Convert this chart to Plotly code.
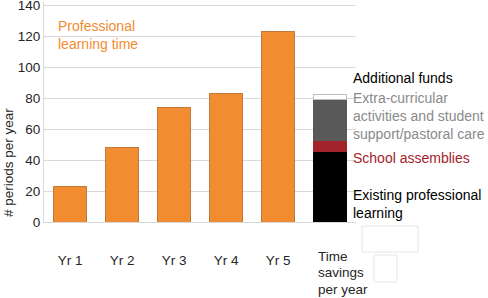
import plotly.graph_objects as go

categories = ["Yr 1", "Yr 2", "Yr 3", "Yr 4", "Yr 5", "Time savings per year"]
tick_text = ["Yr 1", "Yr 2", "Yr 3", "Yr 4", "Yr 5", ""]
y_ticks = [0, 20, 40, 60, 80, 100, 120, 140]
pl_time = [23, 48, 74, 83, 123]
existing_pl = [45]
assemblies = [7]
extra_curricular = [27]
additional_funds = [3]

FONT = "Liberation Sans, Arial, sans-serif"
ORANGE = "#F28C30"

fig = go.Figure()
fig.add_trace(go.Bar(x=categories[:5], y=pl_time, marker=dict(color=ORANGE, line=dict(color="#c27a3c", width=1)), name="Professional learning time"))
fig.add_trace(go.Bar(x=categories[5:], y=existing_pl, marker=dict(color="#000000", line=dict(width=0)), name="Existing professional learning"))
fig.add_trace(go.Bar(x=categories[5:], y=assemblies, marker=dict(color="#A3232A", line=dict(width=0)), name="School assemblies"))
fig.add_trace(go.Bar(x=categories[5:], y=extra_curricular, marker=dict(color="#595959", line=dict(width=0)), name="Extra-curricular"))
fig.add_trace(go.Bar(x=categories[5:], y=additional_funds, marker=dict(color="#ffffff", line=dict(color="#bfbfbf", width=1)), name="Additional funds"))

TOP, BOT = 2, 76
PH = 298 - TOP - BOT  # plot height in px (ends at y=222)

fig.update_layout(
    width=488, height=298,
    margin=dict(l=44, r=132, t=TOP, b=BOT),
    paper_bgcolor="white", plot_bgcolor="white",
    barmode="stack", bargap=0.35, showlegend=False,
    font=dict(family=FONT, size=13.5, color="#262626"),
)
fig.update_yaxes(range=[0, 142], tickmode="array", tickvals=y_ticks, showgrid=True, gridcolor="#d9d9d9", gridwidth=1,
                 showline=True, linecolor="#d9d9d9", zeroline=False, ticks="",
                 ticklabeloverflow="allow", automargin=False,
                 tickfont=dict(size=13.5, color="#262626"))
fig.update_xaxes(tickvals=categories, ticktext=tick_text, showline=True, linecolor="#d9d9d9",
                 ticks="", ticklabelstandoff=26, automargin=False, tickfont=dict(size=13.5, color="#262626"))

def py(p):
    return (222 - p) / PH

def px(p):
    return (p - 44) / 312

ann = [
    dict(text="Professional<br>learning time", x=px(56), y=py(16), color=ORANGE, anchor="top"),
    dict(text="Additional funds", x=px(351), y=py(78), color="#000000", anchor="middle"),
    dict(text="Extra-curricular<br>activities and student<br>support/pastoral care", x=px(351), y=py(116), color="#8a8a8a", anchor="middle"),
    dict(text="School assemblies", x=px(351), y=py(158), color="#A3232A", anchor="middle"),
    dict(text="Existing professional<br>learning", x=px(351), y=py(203.5), color="#000000", anchor="middle"),
]
for a in ann:
    fig.add_annotation(text=a["text"], x=a["x"], y=a["y"], xref="paper", yref="paper",
                       xanchor="left", yanchor=a["anchor"], align="left", showarrow=False,
                       font=dict(family=FONT, size=14, color=a["color"]))

for i, line in enumerate(["Time", "savings", "per year"]):
    fig.add_annotation(text=line, x=px(316), y=py(256 + 16.5 * i), xref="paper", yref="paper",
                       xanchor="left", yanchor="middle", align="left", showarrow=False,
                       font=dict(family=FONT, size=13.5, color="#262626"))
fig.add_annotation(text="# periods per year", x=px(8), y=py(163), xref="paper", yref="paper",
                   textangle=-90, showarrow=False, xanchor="center", yanchor="middle",
                   font=dict(family=FONT, size=13.5, color="#262626"))

fig.add_shape(type="rect", xref="paper", yref="paper", x0=px(362), x1=px(418), y0=py(252), y1=py(226),
              line=dict(color="#e6e6e6", width=1))
fig.add_shape(type="rect", xref="paper", yref="paper", x0=px(374), x1=px(397), y0=py(282), y1=py(255),
              line=dict(color="#e6e6e6", width=1))

fig.write_html("out.html")
